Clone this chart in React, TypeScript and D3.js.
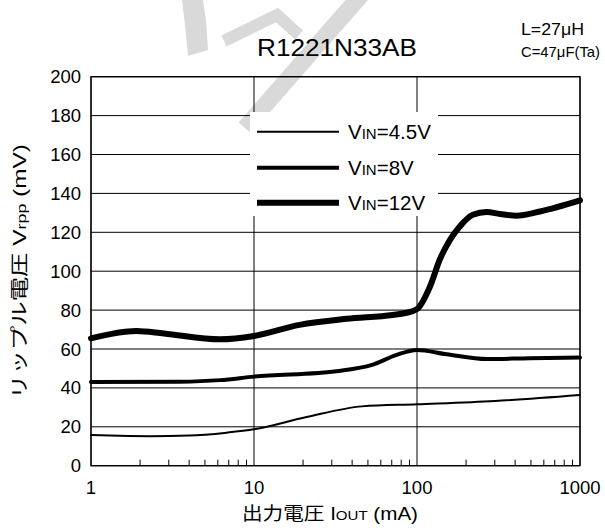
import React from "react";
import * as d3 from "d3";

// ---- data (Iout in mA, ripple in mV) ----
const xTicks = [1, 10, 100, 1000];
const yTicks = [0, 20, 40, 60, 80, 100, 120, 140, 160, 180, 200];

const iout45 = [1, 1.5, 2.3, 4, 6.8, 10, 21, 46, 100, 300, 1000];
const vrpp45 = [15.8, 15.4, 15.2, 15.5, 17, 18.7, 25, 30.5, 31.6, 33.3, 36.4];

const iout8 = [1, 3.5, 6.2, 10, 33, 53, 75, 100, 152, 268, 490, 1000];
const vrpp8 = [43, 43.2, 44, 45.8, 48.7, 51.8, 57, 59.5, 57.3, 54.8, 55.3, 55.6];

const iout12 = [1, 1.9, 2.8, 6.2, 10, 19, 37, 71, 85, 100, 120, 138, 159, 183, 220, 267, 323, 408, 568, 1000];
const vrpp12 = [65.5, 69.3, 68, 65, 66.7, 72.4, 75.5, 77.5, 78.5, 80.5, 92, 106, 116, 123, 129, 130.4, 129.4, 128.5, 130.7, 136.4];

const seriesNames = ["4.5V", "8V", "12V"];
const seriesWidths = [2, 4, 6];

const FONT = "'Liberation Sans', Arial, sans-serif";
const CJK = "'Liberation Sans', 'Noto Sans CJK JP', sans-serif";

export default function App() {
  const W = 605, H = 530;
  const L = 91, R = 580, T = 76.7, B = 465.7;
  const x = d3.scaleLog().domain([1, 1000]).range([L, R]);
  const y = d3.scaleLinear().domain([0, 200]).range([B, T]);

  const series = [
    { name: seriesNames[0], w: seriesWidths[0], pts: iout45.map((v, i) => [v, vrpp45[i]]) },
    { name: seriesNames[1], w: seriesWidths[1], pts: iout8.map((v, i) => [v, vrpp8[i]]) },
    { name: seriesNames[2], w: seriesWidths[2], pts: iout12.map((v, i) => [v, vrpp12[i]]) },
  ];
  const line = d3
    .line<number[]>()
    .x((d) => x(d[0]))
    .y((d) => y(d[1]))
    .curve(d3.curveMonotoneX);

  const minor: number[] = [];
  [1, 10, 100].forEach((dec) => {
    for (let k = 2; k <= 9; k++) minor.push(dec * k);
  });

  // legend box
  const lgX0 = 250, lgX1 = 438, lgY0 = 112, lgY1 = 216;
  const rowY = [131.7, 167.7, 202.7];

  return (
    <svg width={W} height={H} style={{ position: "absolute", left: 0, top: 0, background: "#fff" }}>
      <rect width={W} height={H} fill="#fff" />
      {/* watermark */}
      <g fill="#d9d9d9" stroke="none">
        <polygon points="182,0 203,0 206,20 208,50 188,56 185,25" />
      </g>
      <g stroke="#d9d9d9" fill="none">
        <polyline points="224,41 277,15 299,35" strokeWidth={12} strokeLinejoin="miter" />
        <line x1={362} y1={-6} x2={245} y2={128} strokeWidth={17} />
      </g>

      {/* grid */}
      <g stroke="#000" strokeWidth={1}>
        {yTicks.map((t) => (
          <line key={"gy" + t} x1={L} x2={R} y1={y(t)} y2={y(t)} />
        ))}
        {xTicks.map((t) => (
          <line key={"gx" + t} x1={x(t)} x2={x(t)} y1={T} y2={B} />
        ))}
        {minor.map((t) => (
          <line key={"m" + t} x1={x(t)} x2={x(t)} y1={B} y2={B - 6} />
        ))}
      </g>
      <rect x={lgX0} y={lgY0} width={lgX1 - lgX0} height={lgY1 - lgY0} fill="#fff" />
      <rect x={L} y={T} width={R - L} height={B - T} fill="none" stroke="#000" strokeWidth={1.3} />

      {/* curves */}
      {series.map((s) => (
        <path key={s.name} d={line(s.pts) || ""} fill="none" stroke="#000" strokeWidth={s.w} strokeLinecap="round" strokeLinejoin="round" />
      ))}

      {/* legend */}
      {series.map((s, i) => (
        <g key={"lg" + s.name}>
          <line x1={257} x2={339} y1={rowY[i]} y2={rowY[i]} stroke="#000" strokeWidth={s.w} />
          <text x={348} y={rowY[i] + 6.8} fontFamily={FONT} fontSize={20.5} fill="#000">
            V<tspan fontSize={15}>IN</tspan>={s.name}
          </text>
        </g>
      ))}

      {/* tick labels */}
      {yTicks.map((t) => (
        <text key={"yl" + t} x={81} y={y(t) + 6.5} textAnchor="end" fontFamily={FONT} fontSize={18.5} fill="#000">
          {t}
        </text>
      ))}
      {xTicks.map((t) => (
        <text key={"xl" + t} x={x(t)} y={494} textAnchor="middle" fontFamily={FONT} fontSize={18.5} fill="#000">
          {t}
        </text>
      ))}

      {/* titles */}
      <text x={257} y={56} fontFamily={FONT} fontSize={24} textLength={160} lengthAdjust="spacingAndGlyphs" fill="#000">
        R1221N33AB
      </text>
      <text x={521} y={35} fontFamily={FONT} fontSize={16} textLength={63} lengthAdjust="spacingAndGlyphs" fill="#000">
        L=27μH
      </text>
      <text x={521} y={57} fontFamily={FONT} fontSize={15} textLength={79} lengthAdjust="spacingAndGlyphs" fill="#000">
        C=47μF(Ta)
      </text>

      {/* axis labels */}
      <text x={242} y={520} fontFamily={CJK} fontSize={18.5} textLength={176} lengthAdjust="spacingAndGlyphs" fill="#000">
        出力電圧 I<tspan fontSize={13.5}>OUT</tspan> (mA)
      </text>
      <text
        transform="translate(26,399) rotate(-90)"
        fontFamily={CJK}
        fontSize={18.5}
        textLength={255}
        lengthAdjust="spacingAndGlyphs"
        fill="#000"
      >
        リップル電圧 V<tspan fontSize={13.5}>rpp</tspan> (mV)
      </text>
    </svg>
  );
}
